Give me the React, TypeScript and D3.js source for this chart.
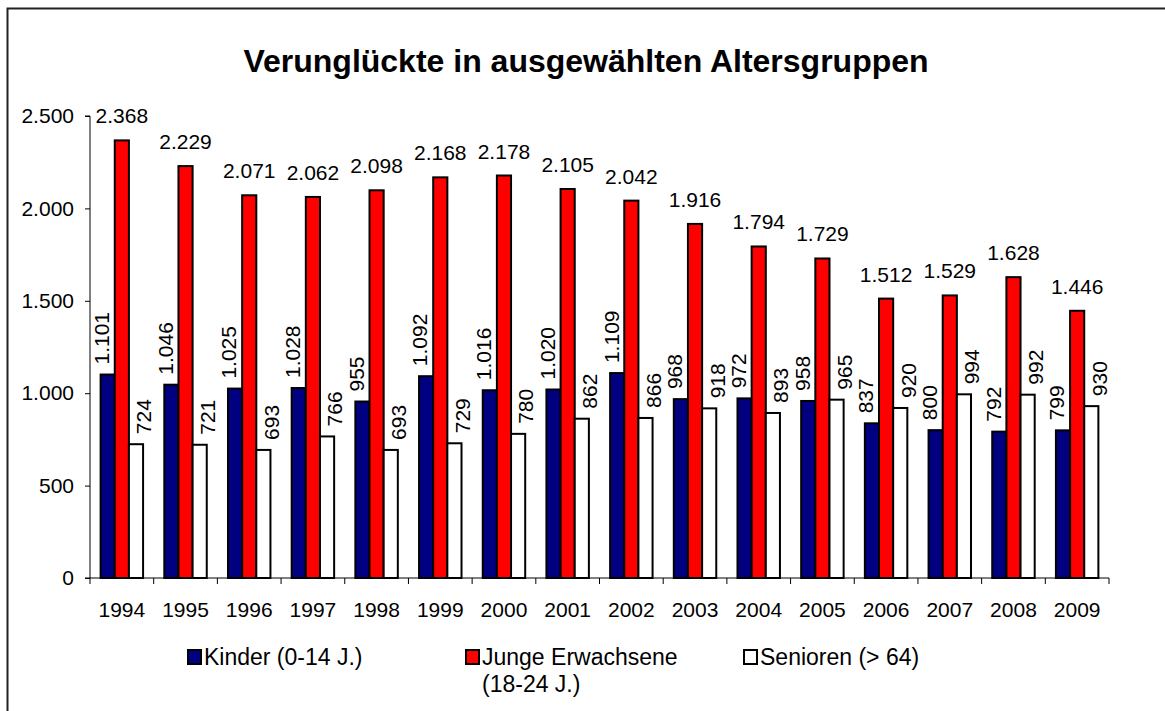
import React, { useEffect, useRef } from "react";
import * as d3 from "d3";

const years = ["1994", "1995", "1996", "1997", "1998", "1999", "2000", "2001", "2002", "2003", "2004", "2005", "2006", "2007", "2008", "2009"];
const kinder = [1101, 1046, 1025, 1028, 955, 1092, 1016, 1020, 1109, 968, 972, 958, 837, 800, 792, 799];
const junge = [2368, 2229, 2071, 2062, 2098, 2168, 2178, 2105, 2042, 1916, 1794, 1729, 1512, 1529, 1628, 1446];
const senioren = [724, 721, 693, 766, 693, 729, 780, 862, 866, 918, 893, 965, 920, 994, 992, 930];
const yTicks = [0, 500, 1000, 1500, 2000, 2500];
const seriesNames = ["Kinder", "Junge", "Senioren"];
const legendLabels = [["Kinder (0-14 J.)"], ["Junge Erwachsene", "(18-24 J.)"], ["Senioren (> 64)"]];
const colors = ["#000080", "#ff0000", "#ffffff"];

const W = 1165;
const H = 711;
const FONT = "'Liberation Sans', Arial, sans-serif";

const de = d3.formatLocale({ decimal: ",", thousands: ".", grouping: [3], currency: ["", " €"] });
const fmt = de.format(",d");

const Chart = () => {
  const ref = useRef(null);

  useEffect(() => {
    const svg = d3.select(ref.current);
    svg.selectAll("*").remove();

    const x0 = 90, x1 = 1109, yBottom = 578, yTop = 116;
    const x = d3.scaleBand(years, [x0, x1]);
    const bw = x.bandwidth();
    const gw = bw / 1.5; // gap width 50%
    const xs = d3.scaleBand(seriesNames, [0, gw]);
    const y = d3.scaleLinear([0, 2500], [yBottom, yTop]);
    const values = [kinder, junge, senioren];

    // outer frame
    svg.append("rect")
      .attr("x", 7.5).attr("y", 8.5)
      .attr("width", W).attr("height", H)
      .attr("fill", "none").attr("stroke", "#222").attr("stroke-width", 2);

    svg.append("text")
      .attr("x", 586).attr("y", 72)
      .attr("text-anchor", "middle")
      .attr("font-family", FONT).attr("font-weight", "bold").attr("font-size", 32)
      .text("Verunglückte in ausgewählten Altersgruppen");

    // y axis
    const yAxis = d3.axisLeft(y).tickValues(yTicks).tickSize(5).tickPadding(11).tickFormat(fmt);
    svg.append("g")
      .attr("transform", `translate(${x0},0)`)
      .call(yAxis)
      .call((g) => g.select(".domain").attr("stroke", "#000").attr("d", `M-5,${yTop}H0V${yBottom}H-5`))
      .call((g) => g.selectAll("text").attr("font-family", FONT).attr("font-size", 21).attr("fill", "#000"));

    // bars
    values.forEach((vals, s) => {
      svg.append("g")
        .selectAll("rect")
        .data(vals)
        .join("rect")
        .attr("x", (d, i) => x(years[i]) + (bw - gw) / 2 + xs(seriesNames[s]))
        .attr("y", (d) => y(d))
        .attr("width", xs.bandwidth())
        .attr("height", (d) => y(0) - y(d))
        .attr("fill", colors[s])
        .attr("stroke", "#000")
        .attr("stroke-width", 2);
    });

    // x axis
    const xAxis = d3.axisBottom(x).tickSize(0).tickPadding(24);
    const gx = svg.append("g")
      .attr("transform", `translate(0,${yBottom})`)
      .call(xAxis)
      .call((g) => g.select(".domain").attr("stroke", "#000").attr("d", `M${x0},0H${x1}`))
      .call((g) => g.selectAll("text").attr("font-family", FONT).attr("font-size", 21).attr("fill", "#000"));
    gx.selectAll(".sep")
      .data(d3.range(years.length + 1))
      .join("line")
      .attr("x1", (i) => x0 + i * bw).attr("x2", (i) => x0 + i * bw)
      .attr("y1", 0).attr("y2", 6)
      .attr("stroke", "#000");

    // labels for Junge (horizontal)
    svg.append("g")
      .selectAll("text")
      .data(junge)
      .join("text")
      .attr("x", (d, i) => x(years[i]) + (bw - gw) / 2 + xs("Junge") + xs.bandwidth() / 2)
      .attr("y", (d) => y(d) - 17)
      .attr("text-anchor", "middle")
      .attr("font-family", FONT).attr("font-size", 21)
      .text((d) => fmt(d));

    // rotated labels for Kinder and Senioren
    const rotated = [[kinder, "Kinder", -6], [senioren, "Senioren", 8]];
    rotated.forEach(([vals, name, off]) => {
      svg.append("g")
        .selectAll("text")
        .data(vals)
        .join("text")
        .attr("transform", (d, i) => {
          const cx = x(years[i]) + (bw - gw) / 2 + xs(name) + xs.bandwidth() / 2 + off;
          return `translate(${cx},${y(d) - 10}) rotate(-90)`;
        })
        .attr("dy", "0.35em")
        .attr("font-family", FONT).attr("font-size", 21)
        .text((d) => fmt(d));
    });

    // legend, equal-width entries
    const legendX = [188, 466, 744];
    const lg = svg.append("g").selectAll("g")
      .data(legendLabels)
      .join("g")
      .attr("transform", (d, i) => `translate(${legendX[i]},650)`);
    lg.append("rect")
      .attr("width", 13).attr("height", 14)
      .attr("fill", (d, i) => colors[i])
      .attr("stroke", "#000").attr("stroke-width", 2);
    lg.selectAll("text")
      .data((d) => d)
      .join("text")
      .attr("x", 16)
      .attr("y", (d, j) => 15 + j * 27)
      .attr("font-family", FONT).attr("font-size", 23)
      .text((d) => d);
  }, []);

  return <svg ref={ref} width={W} height={H} style={{ position: "absolute", left: 0, top: 0, display: "block", background: "#fff" }}></svg>;
};

export default function App() {
  return <Chart />;
}
